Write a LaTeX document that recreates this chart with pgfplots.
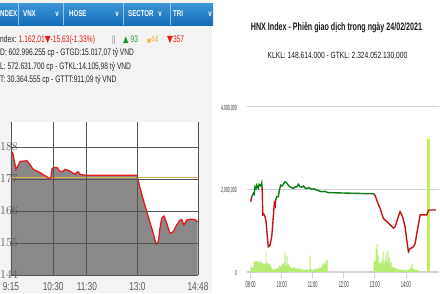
\documentclass[border=0pt]{standalone}
\usepackage{fontspec}
\setmainfont{Liberation Sans}
\usepackage{pgfplots}
\pgfplotsset{compat=1.18}
\usepackage{pgfplotstable}
\newfontfamily\cond[FakeStretch=0.72]{Liberation Sans}
\newfontfamily\txtc[FakeStretch=0.7]{Liberation Sans}
\newfontfamily\ttl[FakeStretch=0.66]{Liberation Sans}
\newfontfamily\ttlb[FakeStretch=0.74]{Liberation Sans}
\newfontfamily\vnarrow[FakeStretch=0.47]{Liberation Sans}
\newfontfamily\sym[FakeStretch=0.8]{DejaVu Sans}
\definecolor{panelbg}{RGB}{243,243,243}
\definecolor{hdrtop}{RGB}{60,150,215}
\definecolor{hdrbot}{RGB}{22,108,185}
\definecolor{vnred}{RGB}{230,25,25}
\definecolor{vnfill}{RGB}{139,137,135}
\definecolor{vngrid}{RGB}{85,85,85}
\definecolor{vnref}{RGB}{228,172,80}
\definecolor{upgreen}{RGB}{30,150,50}
\definecolor{midorange}{RGB}{245,175,60}
\definecolor{hnxgreen}{RGB}{10,125,20}
\definecolor{hnxred}{RGB}{195,20,20}
\definecolor{volgreen}{RGB}{182,236,112}
\definecolor{hnxgrid}{RGB}{210,210,210}
\definecolor{lbl}{RGB}{90,90,90}

% VN-Index intraday (x = minutes after midnight, y = index - 1000)
\pgfplotstableread{
t v
555 186.0
556.8 186.3
558.6 185.5
561 183.0
563.9 180.4
567.5 181.5
571 183.0
576 183.1
580 183.2
583.5 183.3
586 182.6
588.8 182.0
594 180.4
599.5 179.8
603 179.6
606.6 179.2
613.8 178.3
619 177.8
622.7 177.0
626.2 177.5
628 180.5
631.6 181.0
636.9 180.9
641 179.9
644 179.5
647.6 179.7
651.2 180.3
656.5 180.0
660 179.7
665.4 179.0
669 178.7
672 179.2
674.3 179.5
677.9 178.6
683.2 178.4
688.6 178.3
779.4 178.3
784.7 174.0
790.6 169.8
799.5 164.0
808.4 158.3
813.2 154.6
817.3 155.4
820.3 160.0
823.3 163.5
827.4 164.3
830 163.0
832.2 161.8
838.1 158.3
844 158.9
850 161.2
855.9 162.8
858.9 163.1
863 161.2
867.9 162.9
876.8 163.2
882.7 163.0
887.5 162.3
}\vndata

% HNX volume (x = hour, y = million shares)
\pgfplotstableread{
h v
9.010 0.12
9.042 0.13
9.075 0.10
9.107 0.26
9.139 0.24
9.171 0.27
9.204 0.25
9.236 0.26
9.268 0.22
9.301 0.27
9.333 0.24
9.365 0.20
9.397 0.22
9.430 0.18
9.462 0.20
9.494 0.50
9.526 0.22
9.559 0.20
9.591 0.18
9.623 0.20
9.656 0.15
9.688 0.08
9.720 0.06
9.753 0.08
9.785 0.05
9.817 0.07
9.849 0.10
9.882 0.08
9.914 0.14
9.946 0.15
9.979 0.12
10.011 0.20
10.043 0.18
10.076 0.22
10.108 0.47
10.140 0.15
10.173 0.39
10.205 0.20
10.237 0.16
10.269 0.12
10.302 0.10
10.334 0.08
10.366 0.10
10.399 0.12
10.431 0.09
10.463 0.07
10.495 0.10
10.528 0.08
10.560 0.06
10.592 0.09
10.625 0.07
10.657 0.05
10.689 0.06
10.721 0.04
10.754 0.05
10.786 0.06
10.818 0.04
10.850 0.05
10.883 0.05
10.915 0.39
10.947 0.06
10.980 0.05
11.012 0.04
11.044 0.06
11.076 0.08
11.109 0.07
11.141 0.06
11.173 0.09
11.205 0.08
11.238 0.12
11.270 0.10
11.302 0.20
11.335 0.15
11.367 0.22
11.399 0.18
11.431 0.28
11.464 0.30
12.977 0.30
13.010 0.25
13.042 0.55
13.074 0.67
13.106 0.40
13.139 0.20
13.171 0.25
13.203 0.22
13.236 0.30
13.268 0.49
13.300 0.20
13.332 0.30
13.365 0.45
13.397 0.25
13.429 0.52
13.462 0.35
13.494 0.20
13.526 0.25
13.558 0.12
13.591 0.10
13.623 0.12
13.655 0.08
13.688 0.10
13.720 0.07
13.752 0.06
13.785 0.05
13.817 0.07
13.849 0.05
13.881 0.04
13.914 0.06
13.946 0.05
13.978 0.04
14.011 0.05
14.043 0.04
14.075 0.06
14.108 0.05
14.140 0.08
14.172 0.12
14.204 0.20
14.237 0.08
14.269 0.05
14.301 0.06
14.333 0.04
14.366 0.05
14.398 0.04
14.430 0.03
}\hnxvol

\begin{document}
\begin{tikzpicture}[x=1pt,y=1pt]
\path[use as bounding box, fill=white] (0,0) rectangle (440,293);
\fill[panelbg] (0,0) rectangle (212,293);
% header bar
\shade[top color=hdrtop, bottom color=hdrbot] (0,268) rectangle (213,290);
\foreach \s in {18,63,123,170} \draw[white!45!hdrtop, line width=0.8pt] (\s,268) -- (\s,290);
\begin{scope}[every node/.style={text=white, inner sep=0pt, font=\cond\bfseries\fontsize{8.5}{10}\selectfont}]
\node[anchor=west] at (0,279) {NDEX};
\node[anchor=west] at (23,279) {VNX};
\node at (57,279) {v};
\node[anchor=west] at (69,279) {HOSE};
\node at (117,279) {v};
\node[anchor=west] at (128,279) {SECTOR};
\node at (160,279) {v};
\node[anchor=west] at (173,279) {TRI};
\node at (210,279) {v};
\end{scope}
% info lines
\begin{scope}[every node/.style={anchor=west, inner sep=0pt, text=black!85, font=\txtc\fontsize{9.5}{11}\selectfont}]
\node at (0,253) {ndex: \textcolor{vnred}{1.162,01{\sym▼}-15,63(-1.33\%)}};
\node[text=gray] at (112,253) {||};
\node[text=upgreen] at (123,253) {{\sym\small▲} 93};
\node[text=midorange] at (147,253) {{\sym\tiny■}44};
\node[text=vnred] at (167,253) {{\sym▼}357};
\node at (0,239.7) {D: 602.996.255 cp - GTGD:15.017,07 tỷ VND};
\node at (0,226.3) {L: 572.631.700 cp - GTKL:14.105,98 tỷ VND};
\node at (0,213) {T: 30.364.555 cp - GTTT:911,09 tỷ VND};
\end{scope}

% ---------- VN-Index chart ----------
\begin{axis}[at={(11pt,18pt)}, anchor=south west, scale only axis,
  width=187pt, height=153pt,
  xmin=555, xmax=888, ymin=144, ymax=196.6,
  xtick={555,630,690,780,888}, xticklabels={9:15,10:30,11:30,13:0,14:48},
  ytick={144,155,166,177,188},
  grid=major, major grid style={draw=vngrid, line width=0.9pt},
  axis line style={draw=none}, major tick length=0pt,
  axis on top, axis background/.style={fill=white},
  ticklabel style={text=lbl, font=\cond\fontsize{11.5}{12}\selectfont, inner sep=0pt},
  yticklabel style={anchor=west, xshift=-11pt},
  xticklabel style={anchor=north, yshift=-7pt},
  clip=true]
\addplot[fill=vnfill, draw=none] table[x=t, y=v] {\vndata} \closedcycle;
\addplot[vnref, line width=1.3pt] coordinates {(555,177.64) (888,177.64)};
\addplot[vnred, line width=1.3pt] table[x=t, y=v] {\vndata};
\end{axis}

% ---------- HNX chart ----------
\node[font=\ttl\bfseries\fontsize{10.8}{12}\selectfont, text=black!90, inner sep=0pt] at (336.5,265) {HNX Index - Phiên giao dịch trong ngày 24/02/2021};
\node[font=\ttlb\fontsize{9}{10}\selectfont, text=black!90, inner sep=0pt] at (337.5,238) {KLKL: 148.614.000 - GTKL: 2.324.052.130.000};

\begin{axis}[at={(247pt,21.1pt)}, anchor=south west, scale only axis,
  width=192pt, height=165.2pt,
  xmin=8.88, xmax=15.07, ymin=0, ymax=4,
  xtick={9,10,11,12,13,14}, xticklabels={09:00,10:00,11:00,12:00,13:00,14:00},
  ytick={0,2,4}, yticklabels={0,{2,000,000},{4,000,000}},
  ymajorgrids, major grid style={draw=hnxgrid, line width=0.9pt},
  axis x line*=bottom, axis y line*=left,
  x axis line style={draw=hnxgrid, line width=0.6pt, -},
  y axis line style={draw=none},
  xtick style={draw=hnxgrid, line width=0.6pt},
  ytick style={draw=none},
  tick align=outside, major tick length=6pt,
  ticklabel style={text=black!80, inner sep=0pt},
  yticklabel style={font=\vnarrow\fontsize{7.5}{8}\selectfont, anchor=east, xshift=-4pt, yshift=-1.5pt},
  xticklabel style={font=\vnarrow\fontsize{8.5}{9}\selectfont, anchor=north, yshift=-3pt},
  clip=false]
\addplot[ybar, bar width=0.85pt, fill=volgreen, draw=none] table[x=h, y=v] {\hnxvol};
\addplot[ybar, bar width=2.2pt, fill=volgreen!85!yellow, draw=none] coordinates {(14.729,3.22)};
\addplot[hnxred, line width=1.4pt] coordinates {(9.000,1.70) (9.032,1.82)};
\addplot[hnxgreen, line width=1.4pt] coordinates {(9.032,1.82) (9.084,1.90) (9.110,1.88) (9.139,2.06) (9.170,2.02) (9.194,2.10) (9.220,2.05) (9.245,2.02) (9.270,2.12) (9.300,2.10) (9.330,2.08) (9.355,2.15) (9.365,2.05)};
\addplot[hnxred, line width=1.4pt] coordinates {(9.365,2.05) (9.374,1.90) (9.387,1.38) (9.420,1.40) (9.461,1.34) (9.494,1.22) (9.535,0.85) (9.568,0.61) (9.600,0.63) (9.623,0.65) (9.677,0.85) (9.729,1.34) (9.761,1.66) (9.790,1.60) (9.806,1.74)};
\addplot[hnxgreen, line width=1.4pt] coordinates {(9.806,1.74) (9.839,1.82) (9.890,1.82) (9.923,1.98) (9.968,2.10) (10.010,2.08) (10.052,2.12) (10.100,2.18) (10.161,2.15) (10.210,2.10) (10.268,2.06) (10.320,2.04) (10.374,2.02) (10.430,2.06) (10.484,2.06) (10.535,2.12) (10.590,2.06) (10.645,2.05) (10.700,2.08) (10.750,2.03) (10.806,2.02) (10.880,2.04) (10.968,2.00) (11.050,2.01) (11.129,1.98) (11.210,1.96) (11.290,1.94) (11.380,1.95) (11.452,1.93) (11.500,1.92) (12.987,1.89)};
\addplot[hnxred, line width=1.4pt] coordinates {(12.987,1.89) (13.065,1.74) (13.120,1.62) (13.171,1.54) (13.230,1.40) (13.277,1.30) (13.330,1.25) (13.387,1.22) (13.440,1.18) (13.494,1.14) (13.550,1.10) (13.600,1.06) (13.655,1.09) (13.710,1.22) (13.761,1.34) (13.816,1.46) (13.871,1.38) (13.923,1.26) (13.977,1.09) (14.032,0.77) (14.084,0.49) (14.139,0.57) (14.190,0.58) (14.245,0.61) (14.300,0.69) (14.355,0.93) (14.406,1.14) (14.461,1.38) (14.568,1.38) (14.677,1.38) (14.729,1.50) (14.977,1.50)};
\end{axis}
\end{tikzpicture}
\end{document}
